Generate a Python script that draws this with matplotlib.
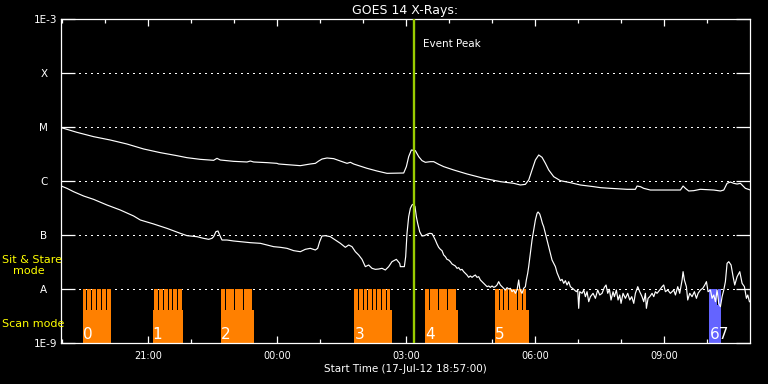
import numpy as np
import matplotlib
matplotlib.use("Agg")
import matplotlib.pyplot as plt
from matplotlib.ticker import MultipleLocator, FuncFormatter, NullLocator, FixedLocator
import matplotlib.transforms as mtransforms

# ---------------- data (time in hours since 17-Jul-12 00:00, flux as log10 W/m^2) -------------
long_time = [18.977, 19.341, 19.729, 20.116, 20.504, 20.891, 21.279, 21.667, 21.899, 22.209,
             22.519, 22.597, 22.674, 22.984, 23.295, 23.372, 23.450, 23.760, 23.992, 24.031,
             24.225, 24.535, 24.767, 24.884, 24.961, 25.039, 25.155, 25.310, 25.465, 25.620,
             25.698, 25.775, 26.085, 26.318, 26.550, 26.938, 27.000, 27.054, 27.116, 27.209,
             27.287, 27.364, 27.442, 27.558, 27.636, 27.752, 27.868, 28.101, 28.411, 28.798,
             29.186, 29.496, 29.651, 29.767, 29.845, 29.922, 30.000, 30.078, 30.155, 30.233,
             30.310, 30.426, 30.581, 30.814, 31.046, 31.356, 31.511, 31.744, 32.131, 32.325,
             32.364, 32.442, 32.519, 32.674, 33.372, 33.434, 33.488, 33.566, 33.682, 33.837,
             34.147, 34.302, 34.380, 34.457, 34.535, 34.612, 34.690, 34.767, 34.829, 34.883,
             34.999]
long_log = [-5.012, -5.099, -5.179, -5.241, -5.315, -5.407, -5.475, -5.531, -5.568, -5.599,
            -5.617, -5.580, -5.611, -5.636, -5.648, -5.630, -5.648, -5.660, -5.673, -5.685,
            -5.697, -5.716, -5.685, -5.673, -5.630, -5.593, -5.574, -5.586, -5.630, -5.673,
            -5.654, -5.685, -5.765, -5.815, -5.858, -5.852, -5.734, -5.549, -5.426, -5.438,
            -5.549, -5.623, -5.654, -5.642, -5.642, -5.691, -5.734, -5.796, -5.870, -5.950,
            -6.012, -6.043, -6.074, -6.062, -5.981, -5.796, -5.611, -5.518, -5.562, -5.673,
            -5.796, -5.920, -5.994, -6.031, -6.074, -6.105, -6.123, -6.136, -6.154, -6.154,
            -6.093, -6.105, -6.136, -6.167, -6.167, -6.093, -6.136, -6.185, -6.179, -6.154,
            -6.167, -6.185, -6.167, -6.043, -6.019, -6.043, -6.056, -6.043, -6.093, -6.136,
            -6.167]

short_time = [18.976, 19.108, 19.263, 19.496, 19.728, 20.038, 20.348, 20.659, 20.814, 21.124,
              21.434, 21.744, 21.899, 22.131, 22.286, 22.403, 22.480, 22.519, 22.573, 22.620,
              22.659, 22.713, 22.829, 22.984, 23.139, 23.372, 23.605, 23.759, 23.914, 24.070,
              24.225, 24.380, 24.535, 24.651, 24.767, 24.884, 24.938, 24.984, 25.038, 25.116,
              25.232, 25.349, 25.465, 25.581, 25.659, 25.736, 25.814, 25.891, 25.969, 26.046,
              26.124, 26.201, 26.279, 26.356, 26.434, 26.511, 26.589, 26.666, 26.767, 26.845,
              26.860, 26.953, 26.984, 27.015, 27.054, 27.093, 27.131, 27.170, 27.201, 27.232,
              27.263, 27.310, 27.364, 27.418, 27.480, 27.542, 27.596, 27.635, 27.674, 27.713,
              27.751, 27.790, 27.829, 27.868, 27.907, 27.945, 27.984, 28.023, 28.062, 28.100,
              28.139, 28.178, 28.217, 28.255, 28.294, 28.333, 28.372, 28.410, 28.449, 28.488,
              28.527, 28.566, 28.604, 28.643, 28.682, 28.721, 28.759, 28.798, 28.837, 28.876,
              28.914, 28.953, 28.992, 29.031, 29.069, 29.108, 29.147, 29.186, 29.224, 29.263,
              29.302, 29.341, 29.380, 29.418, 29.457, 29.496, 29.535, 29.573, 29.612, 29.635,
              29.666, 29.690, 29.728, 29.767, 29.790, 29.821, 29.844, 29.884, 29.922, 29.961,
              30.000, 30.039, 30.062, 30.101, 30.132, 30.163, 30.193, 30.232, 30.271, 30.310,
              30.349, 30.387, 30.426, 30.465, 30.504, 30.542,
              30.581, 30.620, 30.659, 30.698, 30.736, 30.775, 30.814, 30.891, 30.953, 30.984,
              31.007, 31.031, 31.085, 31.124, 31.163, 31.201, 31.240, 31.279, 31.341, 31.395,
              31.449, 31.496, 31.550, 31.604, 31.643, 31.682, 31.721, 31.759, 31.806, 31.837,
              31.883, 31.922, 31.961, 31.992, 32.038, 32.093, 32.147, 32.194, 32.240, 32.287,
              32.325, 32.380, 32.426, 32.480, 32.519, 32.558, 32.581, 32.620, 32.659, 32.713,
              32.752, 32.790, 32.829, 32.891, 32.946, 32.984, 33.023, 33.077, 33.139, 33.178,
              33.217, 33.256, 33.310, 33.356, 33.411, 33.434, 33.465, 33.511, 33.542, 33.589,
              33.643, 33.697, 33.744, 33.783, 33.837, 33.891, 33.938, 33.977, 34.015, 34.070,
              34.108, 34.147, 34.186, 34.225, 34.263, 34.302, 34.341, 34.380, 34.418, 34.457,
              34.496, 34.550, 34.597, 34.635, 34.690, 34.752, 34.806, 34.860, 34.907, 34.938,
              34.977]
short_log = [-6.093, -6.136, -6.198, -6.278, -6.340, -6.444, -6.537, -6.648, -6.722, -6.796,
             -6.877, -6.969, -7.012, -7.031, -7.062, -7.080, -7.062, -7.031, -6.938, -6.926,
             -7.000, -7.093, -7.093, -7.111, -7.123, -7.142, -7.154, -7.185, -7.216, -7.228,
             -7.247, -7.290, -7.309, -7.265, -7.247, -7.278, -7.247, -7.123, -7.019, -7.012,
             -7.031, -7.093, -7.154, -7.228, -7.185, -7.216, -7.309, -7.370, -7.451, -7.586,
             -7.556, -7.617, -7.636, -7.630, -7.617, -7.648, -7.586, -7.494, -7.451, -7.525,
             -7.586, -7.586, -7.401, -6.969, -6.660, -6.506, -6.444, -6.426, -6.475, -6.660,
             -6.784, -6.938, -7.019, -7.012, -6.988, -6.969, -6.975, -7.031, -7.093, -7.167,
             -7.228, -7.265, -7.290, -7.370, -7.401, -7.451, -7.463, -7.494, -7.537, -7.556,
             -7.574, -7.617, -7.605, -7.648, -7.636, -7.679, -7.710, -7.741, -7.784, -7.759,
             -7.784, -7.759, -7.741, -7.784, -7.772, -7.833, -7.864, -7.895, -7.926, -7.957,
             -7.944, -7.969, -7.944, -7.969, -7.957, -7.926, -7.864, -7.926, -7.957, -7.988,
             -8.019, -7.975, -8.000, -7.988, -8.049, -8.019, -8.080, -8.019, -7.833, -7.988,
             -8.049, -8.080, -7.988, -7.957, -7.833, -7.710, -7.586, -7.340, -7.093, -6.907,
             -6.722, -6.599, -6.574, -6.611, -6.691, -6.784, -6.846, -6.969, -7.093, -7.216,
             -7.340, -7.463, -7.525, -7.586, -7.698, -7.772,
             -7.846, -7.821, -7.895, -7.846, -7.926, -7.864, -7.957, -8.006, -8.050, -8.019,
             -8.358, -8.050, -8.080, -8.019, -8.142, -8.050, -8.235, -8.142, -8.080, -8.173,
             -8.019, -8.111, -8.080, -7.969, -7.926, -8.080, -8.006, -8.204, -8.050, -8.142,
             -8.019, -8.204, -8.111, -8.266, -8.080, -8.173, -8.080, -8.204, -8.142, -8.266,
             -8.080, -7.957, -8.050, -8.142, -8.235, -8.080, -8.358, -8.173, -8.142, -8.080,
             -8.142, -8.050, -8.080, -8.019, -7.957, -7.926, -8.050, -8.019, -8.080, -8.050,
             -8.019, -8.111, -7.957, -8.080, -7.834, -7.679, -7.834, -7.957, -8.204, -8.080,
             -8.142, -8.050, -8.173, -8.080, -8.019, -7.988, -7.926, -7.864, -8.050, -8.019,
             -8.173, -8.111, -8.235, -8.019, -8.266, -8.327, -8.142, -8.019, -7.864, -7.525,
             -7.494, -7.556, -7.772, -7.926, -7.772, -7.679, -7.895, -7.957, -8.173, -8.111,
             -8.235]

event_peak = 27.186

# observation groups: scan blocks and sit & stare exposures
group_labels = ['0', '1', '2', '3', '4', '5', '67']
group_start = [19.472, 21.100, 22.698, 25.791, 27.442, 29.063, 34.047]
group_end = [20.133, 21.807, 23.465, 26.674, 28.202, 29.860, 34.326]
group_colors = ['#FF8000', '#FF8000', '#FF8000', '#FF8000', '#FF8000', '#FF8000', '#6464FF']
block_top = [4.1e-9, 4.1e-9, 4.1e-9, 4.1e-9, 4.1e-9, 4.1e-9, 5.0e-9]
spike_starts = [
    [19.472, 19.586, 19.700, 19.814, 19.928, 20.042],
    [21.140, 21.256, 21.365, 21.472, 21.581, 21.691],
    [22.698, 22.802, 22.907, 23.012, 23.116, 23.221, 23.326],
    [25.791, 25.898, 26.005, 26.112, 26.219, 26.326, 26.433, 26.540],
    [27.442, 27.547, 27.651, 27.756, 27.860, 27.965, 28.070],
    [29.063, 29.170, 29.277, 29.384, 29.491, 29.598, 29.705],
    [34.047, 34.130, 34.240],
]
spike_duration = 0.086
stare_top = 1.0e-8
floor = 1.0e-9

ytick_vals = [1e-9, 1e-8, 1e-7, 1e-6, 1e-5, 1e-4, 1e-3]
ytick_labels = ['1E-9', 'A', 'B', 'C', 'M', 'X', '1E-3']

# ---------------- figure ----------------
W, H = 768, 384
fig = plt.figure(figsize=(W / 100, H / 100), dpi=100, facecolor='black')
ax = fig.add_axes([61 / W, 41 / H, 689 / W, 324 / H], facecolor='black')
ax.set_yscale('log')
ax.set_ylim(1e-9, 1e-3)
ax.set_xlim(18.97, 34.99)

# bars
for gs, ge, col, bt, sp in zip(group_start, group_end, group_colors, block_top, spike_starts):
    ax.bar(gs, bt - floor, width=ge - gs, bottom=floor, align='edge', color=col,
           linewidth=0, zorder=2)
    ax.bar(sp, stare_top - floor, width=spike_duration, bottom=floor, align='edge',
           color=col, linewidth=0, zorder=2)

lab_tr = mtransforms.blended_transform_factory(ax.transData, ax.transAxes)
for gs, lab in zip(group_start, group_labels):
    ax.text(gs, 0.012, lab, transform=lab_tr, color='white', fontsize=11,
            ha='left', va='baseline', zorder=4)

# curves
ax.plot(long_time, 10 ** np.array(long_log), color='white', lw=0.85, zorder=3)
ax.plot(short_time, 10 ** np.array(short_log), color='white', lw=0.85, zorder=3)

# event peak
ax.axvline(event_peak, color='#99CC00', lw=1.7, zorder=5)
ax.annotate('Event Peak', xy=(event_peak, 0.914), xycoords=('data', 'axes fraction'),
            xytext=(6.5, 0), textcoords='offset points', color='white', fontsize=7.5,
            ha='left', va='baseline')

# axes styling
for s in ax.spines.values():
    s.set_color('white')
    s.set_linewidth(0.9)

ax.yaxis.set_major_locator(FixedLocator(ytick_vals))
ax.yaxis.set_minor_locator(NullLocator())
ax.set_yticklabels(ytick_labels)
ax.tick_params(axis='y', which='major', direction='in', length=10, width=0.9,
               colors='white', left=True, right=True, labelsize=7.5, pad=3)
shift = mtransforms.ScaledTranslation(-13 / 100, 0, fig.dpi_scale_trans)
for lbl in ax.get_yticklabels():
    if lbl.get_text() in ('A', 'B', 'C', 'M', 'X'):
        lbl.set_horizontalalignment('center')
        lbl.set_transform(lbl.get_transform() + shift)

ax.xaxis.set_major_locator(MultipleLocator(3))
ax.xaxis.set_minor_locator(MultipleLocator(1))
ax.xaxis.set_major_formatter(FuncFormatter(lambda v, p: f"{int(round(v)) % 24:02d}:00"))
ax.tick_params(axis='x', which='major', direction='in', length=5, width=0.9,
               colors='white', top=True, bottom=True, labelsize=7, pad=6)
ax.tick_params(axis='x', which='minor', direction='in', length=2.8, width=0.9,
               colors='white', top=True, bottom=True)

ax.grid(axis='y', which='major', color='white', lw=0.75, linestyle=(0, (1, 4.8)),
        antialiased=False, zorder=1)
ax.set_axisbelow(True)

ax.set_xlabel('Start Time (17-Jul-12 18:57:00)', color='white', fontsize=7.5, va='baseline')
ax.xaxis.set_label_coords(0.5, -(372.5 - 343) / 324)

ax.set_title('GOES 14 X-Rays:', color='white', fontsize=9, pad=3.6)

fig.text(2 / W, 1 - 262.7 / H, 'Sit & Stare', color='yellow', fontsize=8, ha='left', va='baseline')
fig.text(12.7 / W, 1 - 274.3 / H, 'mode', color='yellow', fontsize=8, ha='left', va='baseline')
fig.text(2 / W, 1 - 327.3 / H, 'Scan mode', color='yellow', fontsize=8, ha='left', va='baseline')

fig.savefig('out.png', dpi=100, facecolor='black')
